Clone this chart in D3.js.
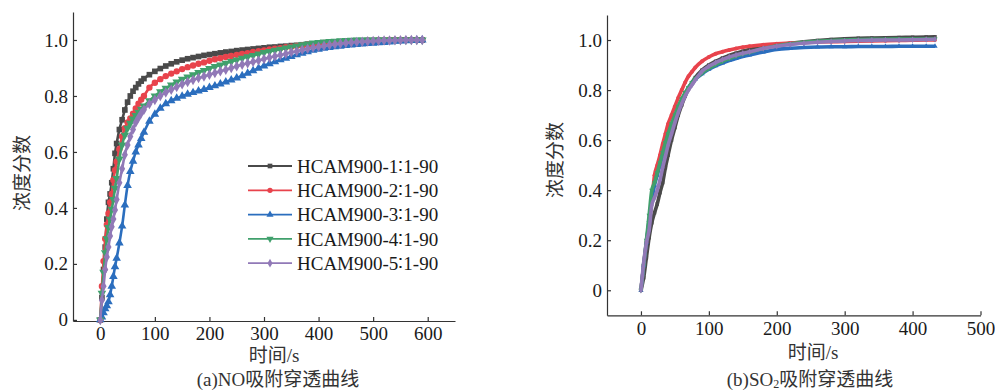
<!DOCTYPE html>
<html>
<head>
<meta charset="utf-8">
<script src="https://cdn.jsdelivr.net/npm/d3@7"></script>
<style>
  body { margin: 0; background: #fff; }
  svg { display: block; }
  .axis path, .axis line { stroke: #333; stroke-width: 1.2px; }
</style>
</head>
<body>
<div id="graph"></div>
<script>
// series names (legend)
var seriesNames = ["HCAM900-1\u22361-90", "HCAM900-2\u22361-90", "HCAM900-3\u22361-90", "HCAM900-4\u22361-90", "HCAM900-5\u22361-90"];

// NO breakthrough, time in s
var noTime = [0, 3, 6, 9, 12, 15, 18, 21, 24, 27, 30, 35, 40, 45, 50, 55, 60, 65, 70, 75, 80,
  90, 100, 110, 120, 130, 140, 150, 160, 170, 180, 190, 200, 210, 220, 230, 240, 250, 260, 270, 280,
  290, 300, 310, 320, 330, 340, 350, 360, 370, 380, 390, 400, 410, 420, 430, 440, 450, 460, 470, 480,
  490, 500, 510, 520, 530, 540, 550, 560, 570, 580, 590];
var no1 = [0, 0.08, 0.18, 0.26, 0.36, 0.42, 0.45, 0.49, 0.54, 0.595, 0.63, 0.68, 0.715, 0.75, 0.778, 0.80, 0.817, 0.83, 0.843, 0.853, 0.862,
  0.876, 0.888, 0.898, 0.907, 0.915, 0.922, 0.928, 0.933, 0.937, 0.941, 0.945, 0.948, 0.951, 0.954, 0.957, 0.959, 0.962, 0.964, 0.966, 0.968,
  0.970, 0.972, 0.974, 0.975, 0.977, 0.978, 0.980, 0.981, 0.983, 0.985, 0.986, 0.988, 0.989, 0.990, 0.991, 0.992, 0.993, 0.994, 0.995, 0.996,
  0.997, 0.997, 0.998, 0.998, 0.999, 0.999, 1.0, 1.0, 1.0, 1.0, 1.0];
var no2 = [0, 0.12, 0.21, 0.29, 0.34, 0.38, 0.42, 0.45, 0.50, 0.535, 0.565, 0.61, 0.655, 0.685, 0.705, 0.72, 0.737, 0.755, 0.772, 0.787, 0.80,
  0.83, 0.847, 0.86, 0.871, 0.88, 0.888, 0.896, 0.903, 0.909, 0.915, 0.920, 0.926, 0.931, 0.935, 0.939, 0.943, 0.947, 0.950, 0.953, 0.957,
  0.960, 0.963, 0.966, 0.969, 0.971, 0.974, 0.976, 0.979, 0.981, 0.983, 0.985, 0.987, 0.989, 0.990, 0.992, 0.993, 0.994, 0.995, 0.996, 0.997,
  0.998, 0.998, 0.999, 0.999, 1.0, 1.0, 1.0, 1.0, 1.0, 1.0, 1.0];
var no3 = [0, 0.01, 0.025, 0.04, 0.05, 0.065, 0.09, 0.12, 0.155, 0.19, 0.22, 0.275, 0.335, 0.41, 0.48, 0.53, 0.567, 0.60, 0.625, 0.648, 0.67,
  0.71, 0.735, 0.756, 0.772, 0.783, 0.792, 0.799, 0.806, 0.812, 0.818, 0.823, 0.83, 0.836, 0.843, 0.85, 0.857, 0.864, 0.872, 0.881, 0.89,
  0.899, 0.907, 0.915, 0.922, 0.929, 0.935, 0.941, 0.947, 0.953, 0.958, 0.963, 0.967, 0.970, 0.973, 0.976, 0.978, 0.980, 0.982, 0.984, 0.986,
  0.987, 0.988, 0.990, 0.991, 0.993, 0.995, 0.996, 0.997, 0.998, 0.999, 1.0];
var no4 = [0, 0.095, 0.17, 0.24, 0.29, 0.33, 0.36, 0.395, 0.43, 0.47, 0.505, 0.575, 0.625, 0.66, 0.685, 0.703, 0.718, 0.73, 0.742, 0.753, 0.764,
  0.783, 0.80, 0.815, 0.828, 0.839, 0.850, 0.860, 0.868, 0.876, 0.884, 0.891, 0.898, 0.905, 0.911, 0.917, 0.923, 0.929, 0.935, 0.940, 0.945,
  0.950, 0.955, 0.959, 0.963, 0.967, 0.971, 0.975, 0.979, 0.983, 0.986, 0.989, 0.991, 0.993, 0.995, 0.996, 0.997, 0.998, 0.999, 1.0, 1.0,
  1.0, 1.0, 1.0, 1.0, 1.0, 1.0, 1.0, 1.0, 1.0, 1.0, 1.0];
var no5 = [0, 0.07, 0.12, 0.18, 0.225, 0.26, 0.30, 0.333, 0.36, 0.393, 0.43, 0.49, 0.54, 0.59, 0.625, 0.655, 0.68, 0.705, 0.722, 0.738, 0.751,
  0.771, 0.786, 0.80, 0.812, 0.822, 0.832, 0.842, 0.850, 0.857, 0.864, 0.870, 0.876, 0.882, 0.888, 0.894, 0.900, 0.906, 0.912, 0.917, 0.922,
  0.927, 0.932, 0.937, 0.942, 0.946, 0.951, 0.956, 0.960, 0.965, 0.969, 0.973, 0.976, 0.979, 0.982, 0.985, 0.987, 0.989, 0.991, 0.993, 0.994,
  0.995, 0.996, 0.997, 0.998, 0.998, 0.999, 0.999, 1.0, 1.0, 1.0, 1.0];

// SO2 breakthrough, time in s
var soTime = [0, 4, 8, 12, 16, 20, 24, 28, 32, 36, 40, 45, 50, 55, 60, 65, 70, 75, 80,
  90, 100, 110, 120, 130, 140, 150, 160, 180, 200, 220, 240, 260, 280, 300, 320, 340, 360, 380, 400, 420, 433];
var so1 = [0, 0.05, 0.13, 0.21, 0.27, 0.31, 0.345, 0.39, 0.43, 0.49, 0.54, 0.60, 0.65, 0.70, 0.74, 0.775, 0.805, 0.83, 0.85,
  0.88, 0.90, 0.915, 0.928, 0.938, 0.947, 0.955, 0.962, 0.972, 0.98, 0.987, 0.993, 0.998, 1.002, 1.005, 1.007, 1.008, 1.009, 1.01, 1.011, 1.012, 1.013];
var so2 = [0, 0.10, 0.19, 0.27, 0.36, 0.46, 0.50, 0.54, 0.585, 0.625, 0.665, 0.70, 0.735, 0.77, 0.80, 0.83, 0.855, 0.873, 0.89,
  0.915, 0.932, 0.945, 0.953, 0.96, 0.966, 0.971, 0.975, 0.981, 0.985, 0.988, 0.99, 0.992, 0.993, 0.994, 0.995, 0.996, 0.997, 0.998, 0.999, 1.0, 1.0];
var so3 = [0, 0.10, 0.19, 0.28, 0.36, 0.42, 0.46, 0.50, 0.54, 0.58, 0.62, 0.66, 0.695, 0.73, 0.76, 0.785, 0.81, 0.828, 0.843,
  0.865, 0.883, 0.897, 0.908, 0.918, 0.926, 0.934, 0.94, 0.952, 0.962, 0.967, 0.97, 0.972, 0.973, 0.973, 0.974, 0.974, 0.974, 0.975, 0.975, 0.975, 0.975];
var so4 = [0, 0.10, 0.20, 0.30, 0.40, 0.43, 0.47, 0.51, 0.55, 0.59, 0.625, 0.665, 0.70, 0.735, 0.765, 0.79, 0.81, 0.83, 0.845,
  0.868, 0.887, 0.902, 0.915, 0.926, 0.936, 0.944, 0.951, 0.966, 0.977, 0.985, 0.991, 0.995, 0.998, 1.0, 1.002, 1.003, 1.003, 1.004, 1.004, 1.004, 1.004];
var so5 = [0, 0.11, 0.19, 0.24, 0.34, 0.37, 0.40, 0.44, 0.49, 0.535, 0.58, 0.625, 0.67, 0.71, 0.745, 0.775, 0.80, 0.82, 0.84,
  0.875, 0.895, 0.91, 0.922, 0.932, 0.94, 0.947, 0.953, 0.966, 0.975, 0.982, 0.987, 0.991, 0.994, 0.996, 0.998, 0.999, 1.0, 1.0, 1.001, 1.002, 1.003];

var yTicks = [0, 0.2, 0.4, 0.6, 0.8, 1.0];
var noXTicks = [0, 100, 200, 300, 400, 500, 600];
var soXTicks = [0, 100, 200, 300, 400, 500];

// styles per series
var colors = ["#4a4a4a", "#e8434c", "#2b6ebe", "#40a06c", "#9179b7"];
var shapes = [d3.symbolSquare, d3.symbolCircle, d3.symbolTriangle, d3.symbolTriangle, d3.symbolDiamond];
var rotations = [0, 0, 0, 180, 0];

var serif = '"Liberation Serif", "DejaVu Serif", serif';
var cjk = '"Liberation Serif", "Noto Sans CJK SC", serif';

var W = 995, H = 391;
var svg = d3.select("#graph").append("svg")
    .attr("width", W)
    .attr("height", H);

function toPoints(time, vals) {
    return vals.map(function(v, i) { return {t: time[i], c: v}; });
}

function drawPanel(p) {
    var x = d3.scaleLinear().domain(p.xDomain).range(p.xRange);
    var y = d3.scaleLinear().domain(p.yDomain).range(p.yRange);

    var g = svg.append("g");

    var xAxis = d3.axisBottom(x).tickValues(p.xTicks).tickSizeInner(-4).tickSizeOuter(0).tickPadding(6);
    var yAxis = d3.axisLeft(y).tickValues(yTicks).tickSizeInner(-4).tickSizeOuter(0).tickPadding(5)
        .tickFormat(function(d) { return d === 0 ? "0" : d.toFixed(1); });

    var gx = g.append("g")
        .attr("class", "axis")
        .attr("transform", "translate(0," + p.yRange[0] + ")")
        .call(xAxis);
    var gy = g.append("g")
        .attr("class", "axis")
        .attr("transform", "translate(" + p.xRange[0] + ",0)")
        .call(yAxis);
    [gx, gy].forEach(function(a) {
        a.attr("font-family", serif).attr("font-size", 19);
        a.selectAll("text").attr("fill", "#1a1a1a");
    });

    var line = d3.line()
        .x(function(d) { return x(d.t); })
        .y(function(d) { return y(d.c); })
        .curve(d3.curveMonotoneX);

    p.series.forEach(function(vals, i) {
        var pts = toPoints(p.time, vals);
        g.append("path")
            .datum(pts)
            .attr("fill", "none")
            .attr("stroke", colors[i])
            .attr("stroke-width", p.lineWidth)
            .attr("d", line);
        g.selectAll(".m" + i)
            .data(pts)
            .enter().append("path")
            .attr("class", "m" + i)
            .attr("fill", colors[i])
            .attr("d", d3.symbol().type(shapes[i]).size(p.markSize))
            .attr("transform", function(d) {
                return "translate(" + x(d.t) + "," + y(d.c) + ") rotate(" + rotations[i] + ")";
            });
    });

    // axis titles
    g.append("text")
        .attr("font-family", cjk).attr("font-size", 19).attr("fill", "#333")
        .attr("transform", "translate(" + p.yLabelPos[0] + "," + p.yLabelPos[1] + ") rotate(-90)")
        .attr("text-anchor", "middle")
        .attr("dy", "0.35em")
        .text("浓度分数");
    g.append("text")
        .attr("font-family", cjk).attr("font-size", 19).attr("fill", "#333")
        .attr("x", p.xLabelPos[0])
        .attr("y", p.xLabelPos[1])
        .attr("text-anchor", "middle")
        .attr("dy", "0.35em")
        .text("时间/s");
    return g;
}

var left = drawPanel({
    time: noTime, series: [no1, no2, no3, no4, no5],
    xDomain: [-50, 650], xRange: [73, 455],
    yDomain: [-0.004, 1.1], yRange: [321, 12],
    xTicks: noXTicks, lineWidth: 2.6, markSize: 32,
    yLabelPos: [22, 173], xLabelPos: [274, 355]
});

var right = drawPanel({
    time: soTime, series: [so1, so2, so3, so4, so5],
    xDomain: [-50, 500], xRange: [607, 980.5],
    yDomain: [-0.1, 1.1], yRange: [315.3, 15],
    xTicks: soXTicks, lineWidth: 3.6, markSize: 12,
    yLabelPos: [555, 160], xLabelPos: [813, 352]
});

// captions
svg.append("text")
    .attr("font-family", cjk).attr("font-size", 19).attr("fill", "#333")
    .attr("x", 278).attr("y", 379)
    .attr("text-anchor", "middle")
    .attr("dy", "0.35em")
    .text("(a)NO吸附穿透曲线");

var cap = svg.append("text")
    .attr("font-family", cjk).attr("font-size", 19).attr("fill", "#333")
    .attr("x", 810).attr("y", 379)
    .attr("text-anchor", "middle")
    .attr("dy", "0.35em");
cap.append("tspan").text("(b)SO");
cap.append("tspan").attr("font-size", 12).attr("dy", 2).text("2");
cap.append("tspan").attr("dy", -2).text("吸附穿透曲线");

// legend in left panel
var legend = left.append("g")
    .attr("font-family", serif).attr("font-size", 19);
var rows = legend.selectAll("g")
    .data(seriesNames)
    .enter().append("g")
    .attr("transform", function(d, i) { return "translate(248," + (166 + i * 24.3) + ")"; });
rows.append("line")
    .attr("x1", 0).attr("x2", 44)
    .attr("stroke", function(d, i) { return colors[i]; })
    .attr("stroke-width", 1.8);
rows.append("path")
    .attr("fill", function(d, i) { return colors[i]; })
    .attr("d", function(d, i) { return d3.symbol().type(shapes[i]).size(22)(); })
    .attr("transform", function(d, i) { return "translate(22,0) rotate(" + rotations[i] + ")"; });
rows.append("text")
    .attr("x", 49)
    .attr("dy", "0.35em")
    .attr("fill", "#1a1a1a")
    .text(function(d) { return d; });
</script>
</body>
</html>
